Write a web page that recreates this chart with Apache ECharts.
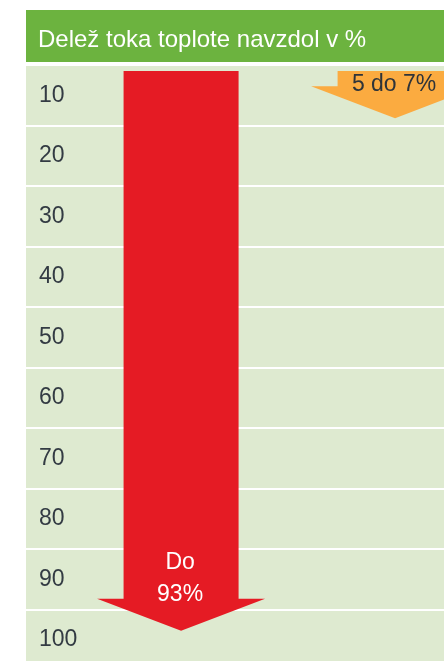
<!DOCTYPE html>
<html>
<head>
<meta charset="utf-8">
<script src="https://cdn.jsdelivr.net/npm/echarts@6/dist/echarts.min.js"></script>
<style>
    html, body { margin: 0; padding: 0; background: #fff; }
    #chart { width: 444px; height: 661px; }
</style>
</head>
<body>
<div id="chart"></div>
<script>
// rows of the scale (share of heat flow downwards, %)
var rowLabels = ['10', '20', '30', '40', '50', '60', '70', '80', '90', '100'];
// arrows: label, where the arrow starts and where its tip ends (in %)
var arrowLabels = ['Do\n93%', '5 do 7%'];
var arrowStart = [1, 1];
var arrowEnd = [93.5, 8.8];

// look of each arrow (x centre in % of the plot width)
var arrowLook = [
    {x: 37.1, color: '#e51b24', text: '#ffffff', textDy: -52},
    {x: 88.3, color: '#fbab40', text: '#2f3439', textDy: null}
];

var chartData = arrowLabels.map(function (name, i) {
    return {name: name, value: [i, arrowStart[i], arrowEnd[i]]};
});

var renderArrow = function (params, api) {
    var i = api.value(0);
    var look = arrowLook[i];
    var top = api.coord([look.x, api.value(1)]);
    var tip = api.coord([look.x, api.value(2)]);
    var cx = top[0];
    var shaftW = 57.5, headW = 84, headH = 32;
    var baseY = tip[1] - headH;
    var textY = look.textDy === null ? top[1] + 14 : tip[1] + look.textDy;
    return {
        type: 'group',
        children: [{
            type: 'polygon',
            shape: {
                points: [
                    [cx - shaftW, top[1]], [cx + shaftW, top[1]], [cx + shaftW, baseY],
                    [cx + headW, baseY], [cx, tip[1]], [cx - headW, baseY], [cx - shaftW, baseY]
                ]
            },
            style: {fill: look.color}
        }, {
            type: 'text',
            x: cx - 1,
            y: textY,
            style: {
                text: arrowLabels[i],
                fill: look.text,
                font: '23px "Liberation Sans", Arial, sans-serif',
                lineHeight: 32,
                align: 'center',
                verticalAlign: 'middle'
            }
        }]
    };
};

var box = echarts.init(document.getElementById('chart'));
var option = {
    backgroundColor: '#ffffff',
    animation: false,
    title: {
        text: 'Delež toka toplote navzdol v %',
        left: 26,
        top: 10,
        padding: [16, 12, 8, 12],
        backgroundColor: '#6cb33f',
        textStyle: {
            color: '#ffffff',
            fontSize: 24,
            fontWeight: 'normal',
            fontFamily: 'Liberation Sans',
            lineHeight: 28,
            width: 394
        }
    },
    grid: {
        left: 26,
        right: 0,
        top: 65,
        height: 605,
        outerBoundsMode: 'none',
        containLabel: false,
        show: true,
        backgroundColor: '#deead0',
        borderWidth: 0
    },
    xAxis: {
        type: 'value',
        min: 0,
        max: 100,
        show: false
    },
    yAxis: [{
        type: 'category',
        inverse: true,
        data: rowLabels,
        axisLine: {show: false},
        axisTick: {show: false},
        axisLabel: {
            inside: true,
            margin: 13,
            padding: [4, 0, 0, 0],
            color: '#333b43',
            fontSize: 23,
            fontFamily: 'Liberation Sans'
        },
        splitLine: {
            show: true,
            interval: 0,
            lineStyle: {color: '#ffffff', width: 2}
        }
    }, {
        type: 'value',
        min: 0,
        max: 100,
        inverse: true,
        show: false
    }],
    series: [{
        type: 'custom',
        yAxisIndex: 1,
        renderItem: renderArrow,
        data: chartData
    }]
};
box.setOption(option);
</script>
</body>
</html>
